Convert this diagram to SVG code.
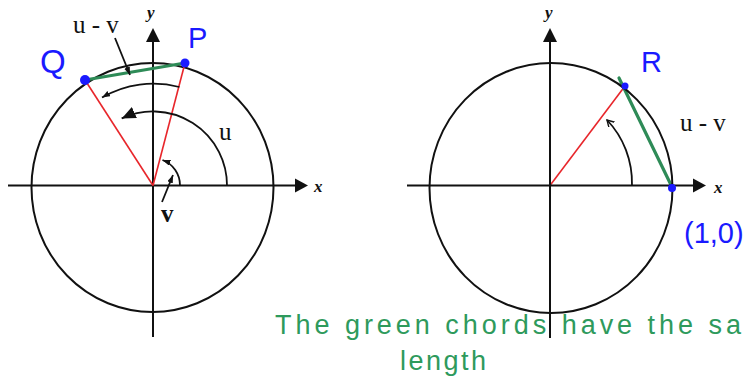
<svg xmlns="http://www.w3.org/2000/svg" width="749" height="380" viewBox="0 0 749 380">
<style>
.ax{stroke:#111;stroke-width:2;fill:none}
.circ{stroke:#111;stroke-width:2;fill:none}
.arc{stroke:#111;stroke-width:1.8;fill:none}
.red{stroke:#e8262b;stroke-width:1.6;fill:none}
.chord{stroke:#2e8b57;stroke-width:3.2;fill:none;stroke-linecap:round}
.dot{fill:#1a1aff}
.hd{fill:#111}
.lbl{font-family:"Liberation Serif",serif;font-size:25px;fill:#111}
.axl{font-family:"Liberation Serif",serif;font-size:17px;font-style:italic;font-weight:bold;fill:#111}
.blue{font-family:"Liberation Sans",sans-serif;fill:#1a1aff}
.note{font-family:"Liberation Sans",sans-serif;font-size:27px;fill:#2e9a5c}
</style>
<defs>
<marker id="sm" markerUnits="userSpaceOnUse" markerWidth="10" markerHeight="8" refX="8" refY="3" orient="auto"><path d="M0,0 L8,3 L0,6 z" fill="#111"/></marker>
<marker id="big" markerUnits="userSpaceOnUse" markerWidth="16" markerHeight="14" refX="14" refY="6" orient="auto"><path d="M0,0 L14,6 L0,12 z" fill="#111"/></marker>
<marker id="open" markerUnits="userSpaceOnUse" markerWidth="10" markerHeight="10" refX="7" refY="4" orient="auto"><path d="M0,0 L7,4 L0,8" fill="none" stroke="#111" stroke-width="1.4"/></marker>
</defs>

<g id="left-axes">
<line class="ax" x1="8" y1="185.5" x2="296" y2="185.5"/>
<polygon class="hd" points="295,178.5 308,185.5 295,192.5"/>
<line class="ax" x1="153" y1="337" x2="153" y2="41"/>
<polygon class="hd" points="146,42 153,28 160,42"/>
<text class="axl" x="314" y="192">x</text>
<text class="axl" x="147" y="18">y</text>
</g>
<g id="left-circle"><ellipse class="circ" cx="152.5" cy="187.5" rx="121" ry="124.5"/></g>

<g id="connectors">
<line class="red" x1="153" y1="185.5" x2="85" y2="80"/>
<line class="red" x1="153" y1="185.5" x2="185" y2="63"/>
<line class="chord" x1="85" y1="80" x2="185" y2="63"/>
<path class="arc" d="M179.4,87 A102,102 0 0 0 102,97.5" marker-end="url(#sm)"/>
<path class="arc" d="M227,185.5 A74,74 0 0 0 121.7,118.4" marker-end="url(#big)"/>
<path class="arc" d="M180,185.5 A27,27 0 0 0 162.5,160" marker-end="url(#sm)"/>
<line class="arc" x1="162" y1="202" x2="173" y2="175" marker-end="url(#sm)"/>
<line class="arc" x1="115" y1="38" x2="130" y2="75" marker-end="url(#sm)"/>
<line class="red" x1="550" y1="185.5" x2="625" y2="86"/>
<line class="chord" x1="619" y1="78" x2="672" y2="187"/>
<path class="arc" d="M632,185.5 A82,88 0 0 0 607,120" marker-end="url(#open)"/>
</g>

<g id="point-Q"><circle class="dot" cx="85" cy="80" r="5"/><text class="blue" x="40" y="73" font-size="33">Q</text></g>
<g id="point-P"><circle class="dot" cx="185" cy="63" r="4.5"/><text class="blue" x="188" y="48" font-size="29">P</text></g>
<g id="labels-left">
<text class="lbl" x="73" y="33">u - v</text>
<text class="lbl" x="219" y="140">u</text>
<text class="lbl" x="161" y="222" font-weight="bold">v</text>
</g>

<g id="right-axes">
<line class="ax" x1="407" y1="185.5" x2="694" y2="185.5"/>
<polygon class="hd" points="693,178.5 706,185.5 693,192.5"/>
<line class="ax" x1="550" y1="338" x2="550" y2="41"/>
<polygon class="hd" points="543,42 550,28 557,42"/>
<text class="axl" x="714" y="193">x</text>
<text class="axl" x="545" y="18">y</text>
</g>
<g id="right-circle"><ellipse class="circ" cx="551" cy="188" rx="121.5" ry="125"/></g>
<g id="point-R"><circle class="dot" cx="625" cy="86" r="3.5"/><text class="blue" x="641" y="72" font-size="29">R</text></g>
<g id="point-10"><circle class="dot" cx="672" cy="188" r="4"/><text class="blue" x="684" y="243" font-size="29">(1,0)</text></g>
<g id="labels-right"><text class="lbl" x="680" y="131">u - v</text></g>

<g id="note">
<text class="note" x="275" y="334" textLength="466" lengthAdjust="spacing">The green chords have the sa</text>
<text class="note" x="400" y="370" textLength="86" lengthAdjust="spacing">length</text>
</g>
</svg>
